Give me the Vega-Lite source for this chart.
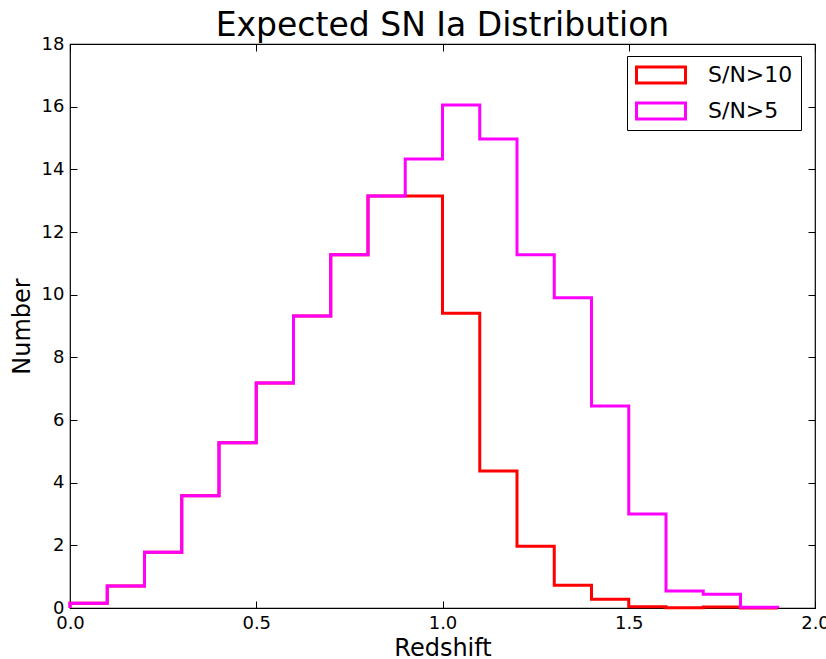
{
  "$schema": "https://vega.github.io/schema/vega-lite/v6.json",
  "width": 745,
  "height": 564,
  "autosize": "none",
  "padding": {"left": 70, "top": 44, "right": 11, "bottom": 51},
  "background": "white",
  "title": {
    "text": "Expected SN Ia Distribution",
    "font": "DejaVu Sans",
    "fontSize": 33,
    "fontWeight": "normal",
    "color": "black",
    "baseline": "alphabetic",
    "anchor": "middle",
    "offset": 9,
    "dy": 43
  },
  "config": {
    "view": {"stroke": "black", "strokeWidth": 1.2},
    "axis": {
      "grid": false,
      "domain": false,
      "tickColor": "black",
      "tickSize": -7,
      "tickWidth": 1,
      "labelFont": "DejaVu Sans",
      "labelFontSize": 18,
      "labelColor": "black",
      "labelFlush": false,
      "labelOverlap": false,
      "titleFont": "DejaVu Sans",
      "titleFontSize": 24,
      "titleFontWeight": "normal",
      "titleColor": "black"
    }
  },
  "datasets": {
    "hist": [
      {"sel": "S/N>10", "i": 0, "z": 0.0, "n": 0},
      {"sel": "S/N>10", "i": 1, "z": 0.0, "n": 0.15},
      {"sel": "S/N>10", "i": 2, "z": 0.1, "n": 0.7},
      {"sel": "S/N>10", "i": 3, "z": 0.2, "n": 1.78},
      {"sel": "S/N>10", "i": 4, "z": 0.3, "n": 3.58},
      {"sel": "S/N>10", "i": 5, "z": 0.4, "n": 5.27},
      {"sel": "S/N>10", "i": 6, "z": 0.5, "n": 7.18},
      {"sel": "S/N>10", "i": 7, "z": 0.6, "n": 9.32},
      {"sel": "S/N>10", "i": 8, "z": 0.7, "n": 11.27},
      {"sel": "S/N>10", "i": 9, "z": 0.8, "n": 13.15},
      {"sel": "S/N>10", "i": 10, "z": 0.9, "n": 13.15},
      {"sel": "S/N>10", "i": 11, "z": 1.0, "n": 9.41},
      {"sel": "S/N>10", "i": 12, "z": 1.1, "n": 4.37},
      {"sel": "S/N>10", "i": 13, "z": 1.2, "n": 1.97},
      {"sel": "S/N>10", "i": 14, "z": 1.3, "n": 0.73},
      {"sel": "S/N>10", "i": 15, "z": 1.4, "n": 0.28},
      {"sel": "S/N>10", "i": 16, "z": 1.5, "n": 0.04},
      {"sel": "S/N>10", "i": 17, "z": 1.6, "n": 0.01},
      {"sel": "S/N>10", "i": 18, "z": 1.7, "n": 0.03},
      {"sel": "S/N>10", "i": 19, "z": 1.8, "n": 0.0},
      {"sel": "S/N>10", "i": 20, "z": 1.9, "n": 0},
      {"sel": "S/N>5", "i": 0, "z": 0.0, "n": 0},
      {"sel": "S/N>5", "i": 1, "z": 0.0, "n": 0.15},
      {"sel": "S/N>5", "i": 2, "z": 0.1, "n": 0.7},
      {"sel": "S/N>5", "i": 3, "z": 0.2, "n": 1.78},
      {"sel": "S/N>5", "i": 4, "z": 0.3, "n": 3.58},
      {"sel": "S/N>5", "i": 5, "z": 0.4, "n": 5.27},
      {"sel": "S/N>5", "i": 6, "z": 0.5, "n": 7.18},
      {"sel": "S/N>5", "i": 7, "z": 0.6, "n": 9.32},
      {"sel": "S/N>5", "i": 8, "z": 0.7, "n": 11.27},
      {"sel": "S/N>5", "i": 9, "z": 0.8, "n": 13.15},
      {"sel": "S/N>5", "i": 10, "z": 0.9, "n": 14.33},
      {"sel": "S/N>5", "i": 11, "z": 1.0, "n": 16.05},
      {"sel": "S/N>5", "i": 12, "z": 1.1, "n": 14.97},
      {"sel": "S/N>5", "i": 13, "z": 1.2, "n": 11.27},
      {"sel": "S/N>5", "i": 14, "z": 1.3, "n": 9.9},
      {"sel": "S/N>5", "i": 15, "z": 1.4, "n": 6.45},
      {"sel": "S/N>5", "i": 16, "z": 1.5, "n": 3.0},
      {"sel": "S/N>5", "i": 17, "z": 1.6, "n": 0.54},
      {"sel": "S/N>5", "i": 18, "z": 1.7, "n": 0.44},
      {"sel": "S/N>5", "i": 19, "z": 1.8, "n": 0.02},
      {"sel": "S/N>5", "i": 20, "z": 1.9, "n": 0}
    ]
  },
  "data": {"name": "hist"},
  "resolve": {"axis": {"x": "independent", "y": "independent"}},
  "layer": [
    {
      "transform": [{"filter": "datum.sel === 'S/N>10'"}],
      "mark": {"type": "line", "interpolate": "step-after", "strokeWidth": 3, "strokeJoin": "miter", "clip": false},
      "encoding": {
        "x": {
          "field": "z", "type": "quantitative",
          "scale": {"domain": [0, 2], "nice": false, "zero": false},
          "axis": {"orient": "bottom", "title": "Redshift", "values": [0, 0.5, 1, 1.5, 2], "format": ".1f", "labelPadding": 13, "titlePadding": 4}
        },
        "y": {
          "field": "n", "type": "quantitative",
          "scale": {"domain": [0, 18], "nice": false},
          "axis": {"orient": "left", "title": "Number", "values": [0, 2, 4, 6, 8, 10, 12, 14, 16, 18], "format": "d", "labelPadding": 13, "titlePadding": 7}
        },
        "order": {"field": "i", "type": "quantitative"},
        "color": {
          "field": "sel", "type": "nominal",
          "scale": {"domain": ["S/N>10", "S/N>5"], "range": ["#ff0000", "#ff00ff"]},
          "legend": {
            "orient": "none",
            "legendX": 557,
            "legendY": 12,
            "title": null,
            "symbolType": "M-1,-0.33H1V0.33H-1Z",
            "symbolSize": 2401,
            "symbolStrokeWidth": 3,
            "symbolFillColor": "white",
            "labelFont": "DejaVu Sans",
            "labelFontSize": 22,
            "labelColor": "black",
            "labelOffset": 21,
            "clipHeight": 22,
            "rowPadding": 14,
            "padding": 8,
            "strokeColor": "black",
            "fillColor": "white",
            "cornerRadius": 0
          }
        }
      }
    },
    {
      "transform": [{"filter": "datum.sel === 'S/N>5'"}],
      "mark": {"type": "line", "interpolate": "step-after", "strokeWidth": 3, "strokeJoin": "miter", "clip": false},
      "encoding": {
        "x": {
          "field": "z", "type": "quantitative",
          "axis": {"orient": "top", "title": null, "labels": false, "values": [0, 0.5, 1, 1.5, 2]}
        },
        "y": {
          "field": "n", "type": "quantitative",
          "axis": {"orient": "right", "title": null, "labels": false, "values": [0, 2, 4, 6, 8, 10, 12, 14, 16, 18]}
        },
        "order": {"field": "i", "type": "quantitative"},
        "color": {"field": "sel", "type": "nominal"}
      }
    }
  ]
}
